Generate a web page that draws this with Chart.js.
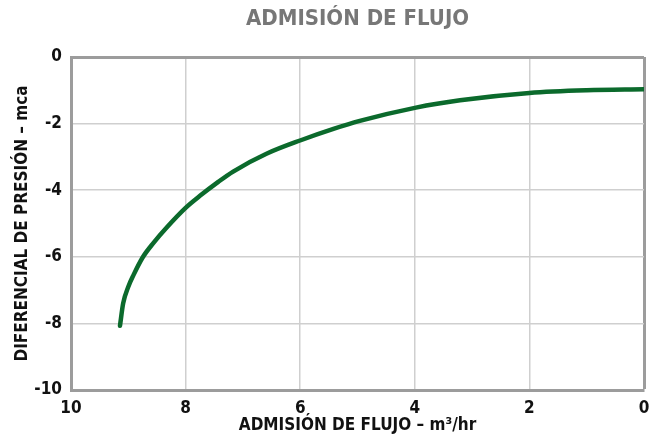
<!DOCTYPE html>
<html>
<head>
<meta charset="utf-8">
<script src="https://cdn.jsdelivr.net/npm/chart.js@4.4.1/dist/chart.umd.min.js"></script>
<style>
  html, body { margin: 0; padding: 0; background: #fff; }
  #wrap { width: 660px; height: 438px; }
</style>
</head>
<body>
<div id="wrap"><canvas id="flowChart" width="660" height="438"></canvas></div>
<script>
// Curve (flow in m3/hr, pressure differential in mca)
const flow = [9.145, 9.09, 9.0, 8.91, 8.75, 8.56, 8.33, 8.0, 7.75, 7.43, 7.17, 6.58, 5.99, 5.42, 4.96, 3.98, 3.21, 2.0, 1.0, 0.0];
const pressure = [-8.07, -7.40, -6.90, -6.55, -6.02, -5.58, -5.12, -4.53, -4.17, -3.75, -3.44, -2.90, -2.50, -2.16, -1.92, -1.52, -1.30, -1.08, -1.0, -0.97];

// Tick labels
const xTicks = [10, 8, 6, 4, 2, 0];
const yTicks = [0, -2, -4, -6, -8, -10];

const titleText = 'ADMISIÓN DE FLUJO';
const xTitle = 'ADMISIÓN DE FLUJO – m³/hr';
const yTitle = 'DIFERENCIAL DE PRESIÓN – mca';

const fontStack = '"DejaVu Sans Condensed", "Liberation Sans Narrow", "Roboto Condensed", "Open Sans", sans-serif';
const frameColor = '#9c9c9c';
const gridColor = '#cfcfcf';

const points = flow.map((f, i) => ({ x: f, y: pressure[i] }));

// outer frame = axis border on left/bottom + heavier grid line at value 0 on top/right
const frameWidth = ctx => ctx.tick && ctx.tick.value === 0 ? 3 : 1.5;
const frameCol = ctx => ctx.tick && ctx.tick.value === 0 ? frameColor : gridColor;

const ctx = document.getElementById('flowChart').getContext('2d');
const flowChart = new Chart(ctx, {
    type: 'scatter',
    data: {
        datasets: [{
            label: titleText,
            data: points,
            showLine: true,
            borderColor: '#0b6a2c',
            borderWidth: 4.5,
            pointRadius: 0,
            cubicInterpolationMode: 'monotone',
            borderCapStyle: 'round'
        }]
    },
    options: {
        responsive: false,
        animation: false,
        layout: {
            padding: { left: 5, right: 16, top: 0, bottom: 2 }
        },
        plugins: {
            legend: { display: false },
            tooltip: { enabled: false },
            title: {
                display: true,
                text: titleText,
                fullSize: false,
                color: '#777777',
                font: { family: fontStack, size: 22, weight: 'bold', lineHeight: 1.2 },
                padding: { top: 6, bottom: 24.6 }
            }
        },
        scales: {
            x: {
                type: 'linear',
                reverse: true,
                min: 0,
                max: 10,
                afterFit: scale => { scale.height = 46; },
                afterBuildTicks: scale => { scale.ticks = xTicks.map(v => ({ value: v })); },
                ticks: {
                    color: '#111',
                    padding: 8,
                    font: { family: fontStack, size: 17, weight: 'bold' }
                },
                grid: { drawTicks: false, color: frameCol, lineWidth: frameWidth },
                border: { color: frameColor, width: 3 },
                title: {
                    display: true,
                    text: xTitle,
                    color: '#111',
                    font: { family: fontStack, size: 17, weight: 'bold', lineHeight: 1.2 },
                    padding: { top: 0, bottom: 0 }
                }
            },
            y: {
                type: 'linear',
                min: -10,
                max: 0,
                afterFit: scale => { scale.width = 66; },
                afterBuildTicks: scale => { scale.ticks = yTicks.map(v => ({ value: v })); },
                ticks: {
                    color: '#111',
                    padding: 9,
                    font: { family: fontStack, size: 17, weight: 'bold' }
                },
                grid: { drawTicks: false, color: frameCol, lineWidth: frameWidth },
                border: { color: frameColor, width: 3 },
                title: {
                    display: true,
                    text: yTitle,
                    color: '#111',
                    font: { family: fontStack, size: 17, weight: 'bold', lineHeight: 1.2 },
                    padding: { top: 7, bottom: 0 }
                }
            }
        }
    }
});
</script>
</body>
</html>
